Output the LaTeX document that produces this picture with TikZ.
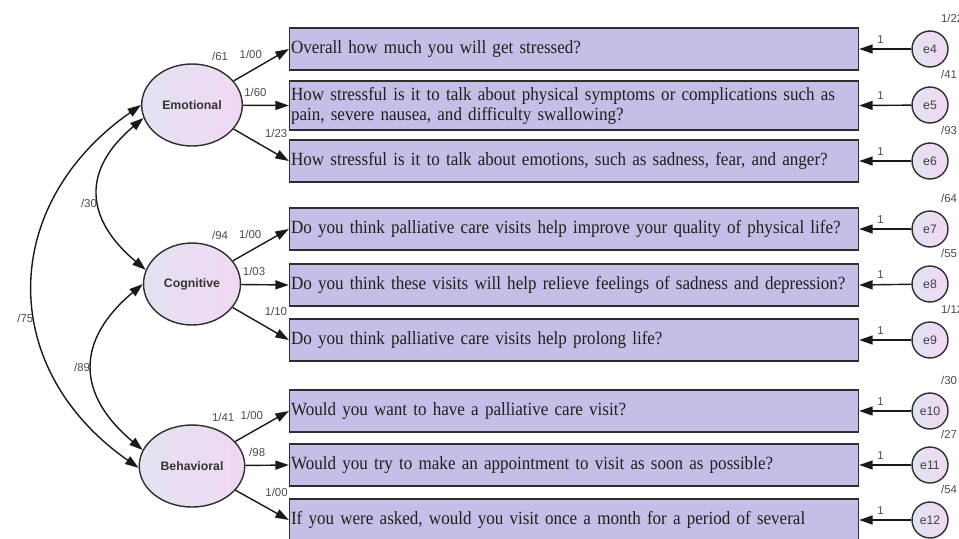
\documentclass[tikz,border=0pt]{standalone}
\usepackage{fontspec}
\setmainfont{Liberation Serif}
\setsansfont{Liberation Sans}
\newfontfamily\itemfont[FakeStretch=0.915]{Liberation Serif}
\usetikzlibrary{arrows.meta, positioning, calc, shapes.geometric}
\definecolor{itemfill}{HTML}{C6BEE6}
\definecolor{latentleft}{HTML}{E2E3F1}
\definecolor{latentright}{HTML}{F0D8F2}
\definecolor{edgegray}{HTML}{2E2E2E}
\definecolor{numgray}{HTML}{4A4A4A}
\tikzset{
    itembox/.style={rectangle, draw=edgegray, fill=itemfill, line width=0.8pt, minimum height=0.84cm, text width=11.32cm, inner xsep=0.03cm, align=left, font=\itemfont\fontsize{10.6}{11.4}\selectfont, text=black!88},
    latent/.style={ellipse, draw=edgegray, line width=0.8pt, left color=latentleft, right color=latentright, minimum width=1.94cm, minimum height=1.64cm, font=\sffamily\bfseries\fontsize{7}{8}\selectfont, text=black!80},
    errcirc/.style={circle, draw=edgegray, line width=0.8pt, left color=latentleft, right color=latentright, minimum size=0.72cm, inner sep=0pt, font=\sffamily\fontsize{7}{8}\selectfont, text=black!75},
    num/.style={font=\sffamily\fontsize{6.5}{7}\selectfont, text=numgray, inner sep=1pt},
    arrow/.style={-{Triangle[length=0.27cm, width=0.18cm]}, line width=0.8pt, draw=black!90},
    dblarrow/.style={{Triangle[length=0.27cm, width=0.18cm]}-{Triangle[length=0.27cm, width=0.18cm]}, line width=0.8pt, draw=black!90}
}
\begin{document}
\begin{tikzpicture}[x=0.02cm, y=-0.02cm]
    \useasboundingbox (0,0) rectangle (959,538);
    % latent factors
    \node[latent, label={[num, anchor=south west, xshift=0.36cm, label distance=0.5pt]north:/61}] (emo) at (192,105) {Emotional};
    \node[latent, label={[num, anchor=south west, xshift=0.36cm, label distance=0.5pt]north:/94}] (cog) at (192,284) {Cognitive};
    \node[latent, label={[num, anchor=south west, xshift=0.36cm, label distance=0.5pt]north:1/41}] (beh) at (192,466) {Behavioral};
    % observed items
    \node[itembox] (q1) at (574,49) {Overall how much you will get stressed?};
    \node[itembox] (q2) at (574,105.5) {How stressful is it to talk about physical symptoms or complications such as\\pain, severe nausea, and difficulty swallowing?};
    \node[itembox] (q3) at (574,161) {How stressful is it to talk about emotions, such as sadness, fear, and anger?};
    \node[itembox] (q4) at (574,229) {Do you think palliative care visits help improve your quality of physical life?};
    \node[itembox] (q5) at (574,285) {Do you think these visits will help relieve feelings of sadness and depression?};
    \node[itembox] (q6) at (574,340) {Do you think palliative care visits help prolong life?};
    \node[itembox] (q7) at (574,411) {Would you want to have a palliative care visit?};
    \node[itembox] (q8) at (574,465) {Would you try to make an appointment to visit as soon as possible?};
    \node[itembox] (q9) at (574,520) {If you were asked, would you visit once a month for a period of several};
    % loadings
    \foreach \f/\a/\b/\c/\la/\lb/\lc in {emo/q1/q2/q3/{1/00}/{1/60}/{1/23}, cog/q4/q5/q6/{1/00}/{1/03}/{1/10}, beh/q7/q8/q9/{1/00}/{/98}/{1/00}} {
        \draw[arrow] (\f) -- node[num, pos=0.31, above=5.5pt] {\la} (\a.west);
        \draw[arrow] (\f) -- node[num, pos=0.27, above=3.5pt] {\lb} (\b.west);
        \draw[arrow] (\f) -- node[num, pos=0.77, above=8pt] {\lc} (\c.west);
    }
    % error terms
    \foreach \n/\y/\v/\q in {4/49/{1/22}/q1, 5/105/{/41}/q2, 6/161/{/93}/q3, 7/229/{/64}/q4, 8/284/{/55}/q5, 9/340/{1/12}/q6, 10/411/{/30}/q7, 11/465/{/27}/q8, 12/520/{/54}/q9} {
        \node[errcirc, label={[num, anchor=south west, xshift=0.18cm, label distance=3pt]north:\v}] (e\n) at (930,\y) {e\n};
        \draw[arrow] (e\n) -- node[num, pos=0.59, above=2pt] {1} (\q.east);
    }
    % covariances
    \draw[dblarrow] (emo.195) to[out=220, in=140, looseness=1.35] node[num, pos=0.56, left] {/30} (cog.163);
    \draw[dblarrow] (cog.180) to[out=220, in=140, looseness=1.35] node[num, left] {/89} (beh.162);
    \draw[dblarrow] (emo.180) to[out=215, in=145, looseness=1.22] node[num, pos=0.58, left] {/75} (beh.182);
\end{tikzpicture}
\end{document}
